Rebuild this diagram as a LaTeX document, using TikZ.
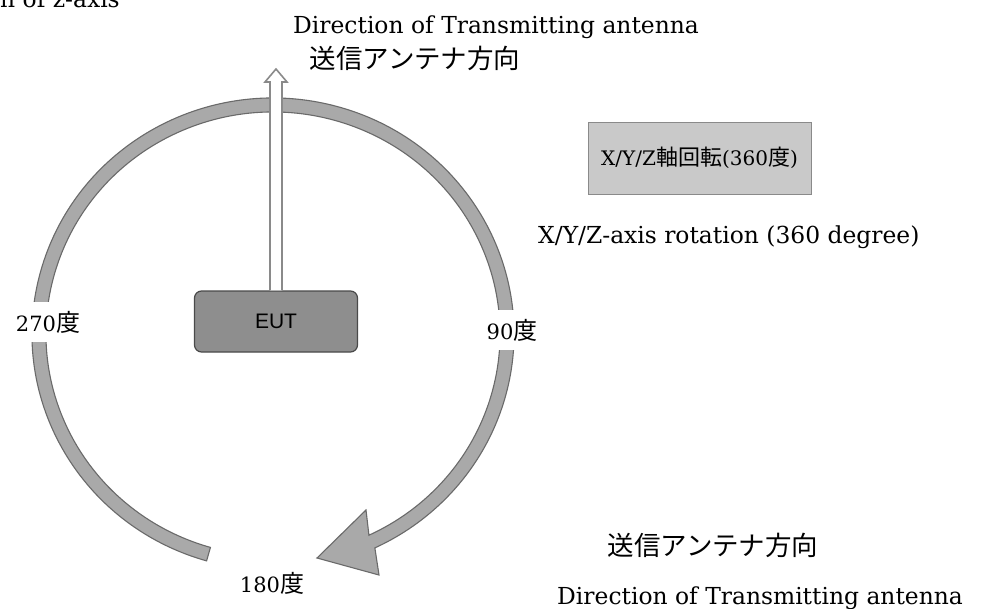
\documentclass[tikz,border=0pt]{standalone}
\usepackage{fontspec}
\setmainfont{DejaVu Serif}
\newfontfamily\cjk{Noto Sans CJK JP}
\newfontfamily\eutfont{Liberation Sans}
\usetikzlibrary{calc}
\definecolor{ringfill}{HTML}{A9A9A9}
\definecolor{ringline}{HTML}{6A6A6A}
\definecolor{eutfill}{HTML}{8E8E8E}
\definecolor{eutline}{HTML}{4A4A4A}
\definecolor{boxfill}{HTML}{C9C9C9}
\definecolor{boxline}{HTML}{8A8A8A}
\tikzset{
  engl/.style={inner sep=0pt, font=\fontsize{23.4}{26}\selectfont},
  jp/.style={inner sep=0pt, font=\cjk\fontsize{26.5}{30}\selectfont},
  ringstyle/.style={fill=ringfill, draw=ringline, line width=1.1pt, line join=miter},
  hollowarrow/.style={fill=white, draw=boxline, line width=1.6pt, line join=miter},
  eutbox/.style={rounded corners=7pt, fill=eutfill, draw=eutline, line width=1.2pt,
    minimum width=163pt, minimum height=61pt, inner sep=0pt,
    font=\eutfont\fontsize{21}{24}\selectfont},
  xyzbox/.style={fill=boxfill, draw=boxline, line width=1pt,
    minimum width=223pt, minimum height=72pt, inner sep=0pt},
  gaplabel/.style={fill=white, inner sep=0pt, minimum height=40pt}
}
\newcommand{\dg}[1]{{\fontsize{21}{24}\selectfont #1}{\cjk\fontsize{24}{26}\selectfont 度}}
\begin{document}
\begin{tikzpicture}[x=1pt,y=-1pt]
\useasboundingbox (0,0) rectangle (981,608);
\fill[white] (0,0) rectangle (981,608);

% rotation ring with arrow head
\begin{scope}[shift={(273,334)}]
  \filldraw[ringstyle] (106:241 and 236)
    arc[start angle=106, end angle=425, x radius=241, y radius=236]
    -- (106,241) -- (44,224) -- (93,176)
    -- (425:227 and 222)
    arc[start angle=425, end angle=106, x radius=227, y radius=222]
    -- cycle;
\end{scope}

% EUT
\node[eutbox] (eut) at (276,321.5) {EUT};

% transmitting antenna arrow (hollow)
\coordinate (atip) at (276,69);
\coordinate (abase) at (276,82);
\draw[hollowarrow] ($(eut.north)+(-6,0)$) -- ($(abase)+(-6,0)$) -- ($(abase)+(-11,0)$)
  -- (atip) -- ($(abase)+(11,0)$) -- ($(abase)+(6,0)$) -- ($(eut.north)+(6,0)$);

% degree labels
\node[gaplabel] (d270) at (48,322) {\dg{270}};
\node[gaplabel] (d90) at (512,330) {\dg{90}};
\node[inner sep=0pt] (d180) at (272,583) {\dg{180}};

% texts
\node[engl, anchor=base west] (zaxis) at (0,7) {n of z-axis};
\node[engl, anchor=base west] (ttop) at (293,33) {Direction of Transmitting antenna};
\node[jp] (jtop) at (415,58) {送信アンテナ方向};
\node[xyzbox] (xyz) at (699.5,158) {{\fontsize{20}{24}\selectfont X/Y/Z}{\cjk\fontsize{22}{24}\selectfont 軸回転}{\fontsize{20}{24}\selectfont (360}{\cjk\fontsize{22}{24}\selectfont 度}{\fontsize{20}{24}\selectfont )}};
\node[engl, anchor=base west] (xyzen) at (538,243) {X/Y/Z-axis rotation (360 degree)};
\node[jp] (jbot) at (713,545) {送信アンテナ方向};
\node[engl, anchor=base west] (tbot) at (557,604) {Direction of Transmitting antenna};
\end{tikzpicture}
\end{document}
